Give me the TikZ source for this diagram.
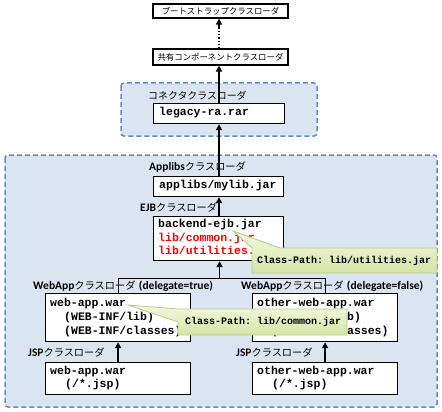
\documentclass[tikz,border=0pt]{standalone}
\usepackage{fontspec}
\setmainfont{Carlito}
\setmonofont{Liberation Mono}
\newfontfamily\jp{Noto Sans CJK JP}
\usetikzlibrary{arrows.meta,calc}
\definecolor{grpfill}{HTML}{DBE5F1}
\definecolor{grpline}{HTML}{5F8DCB}
\definecolor{calltop}{HTML}{F2F8E0}
\definecolor{callbot}{HTML}{D4E5A6}
\definecolor{callline}{HTML}{B7CD86}
\definecolor{redtxt}{HTML}{FF0000}
\newcommand\jpk{\jp\fontsize{10.2}{12}\selectfont}
\begin{document}
\begin{tikzpicture}[x=1pt,y=-1pt,
  grp/.style={draw=grpline, fill=grpfill, line width=1.5pt, dash pattern=on 5pt off 3pt, rounded corners=3pt},
  box/.style={draw=black, fill=white, line width=1.2pt, anchor=north west, inner sep=0pt},
  topbox/.style={draw=black, fill=white, line width=1.1pt, inner sep=0pt, font=\jp\fontsize{8.4}{9}\selectfont},
  mono/.style={anchor=west, inner sep=0pt, font=\ttfamily\bfseries\fontsize{11.5}{13.5}\selectfont},
  cmono/.style={anchor=west, inner sep=0pt, font=\ttfamily\bfseries\fontsize{10}{12}\selectfont},
  lbl/.style={anchor=west, inner sep=0pt, font=\fontsize{11.5}{12}\selectfont},
  arr/.style={line width=1.5pt, -{Triangle[length=6pt,width=6pt]}},
  link/.style={line width=1.2pt},
  callout/.style={draw=callline, line width=0.8pt, top color=calltop, bottom color=callbot}
]
\useasboundingbox (0,0) rectangle (442,412);

% groups
\path[grp] (121,83) rectangle (317,136);
\path[grp] (5,155) rectangle (437,407);

% top boxes
\node[topbox, minimum width=135pt, minimum height=14pt] (boot) at (220.5,11) {ブートストラップクラスローダ};
\node[topbox, minimum width=135pt, minimum height=16pt] (shared) at (220.5,57) {共有コンポーネントクラスローダ};

% boxes
\node[box, minimum width=131pt, minimum height=20pt] (legacy) at (153,103) {};
\node[box, minimum width=130pt, minimum height=20pt] (applibs) at (153,176) {};
\node[box, minimum width=130pt, minimum height=44pt] (ejb) at (153,216) {};
\node[box, minimum width=145pt, minimum height=48pt] (webL) at (45,293) {};
\node[box, minimum width=145pt, minimum height=48pt] (webR) at (252,293) {};
\node[box, minimum width=145pt, minimum height=32pt] (jspL) at (45,362) {};
\node[box, minimum width=145pt, minimum height=32pt] (jspR) at (252,362) {};

% box texts
\node[mono] (tlegacy) at (159,113) {legacy-ra.rar};
\node[mono] (tapplibs) at (159,186) {applibs/mylib.jar};
\node[mono] (tejb1) at (158,225) {backend-ejb.jar};
\node[mono, text=redtxt] (tejb2) at (158,239) {lib/common.jar};
\node[mono, text=redtxt] (tejb3) at (158,252) {lib/utilities.jar};
\node[mono] (twl1) at (50,304) {web-app.war};
\node[mono] (twl2) at (64,318) {(WEB-INF/lib)};
\node[mono] (twl3) at (64,332) {(WEB-INF/classes)};
\node[mono] (twr1) at (257,304) {other-web-app.war};
\node[mono] (twr2) at (271,318) {(WEB-INF/lib)};
\node[mono] (twr3) at (271,332) {(WEB-INF/classes)};
\node[mono] (tjl1) at (50,372) {web-app.war};
\node[mono] (tjl2) at (65,385) {(/*.jsp)};
\node[mono] (tjr1) at (257,372) {other-web-app.war};
\node[mono] (tjr2) at (272,385) {(/*.jsp)};

% labels
\node[lbl, font=\jp\fontsize{9.9}{12}\selectfont] (lconn) at (148,96) {コネクタクラスローダ};
\node[lbl] (lapp) at (149,167) {\textbf{Applibs}{\jpk クラスローダ}};
\node[lbl] (lejb) at (140,208) {\textbf{EJB}{\jpk クラスローダ}};
\node[lbl] (lwebL) at (33,286) {\textbf{WebApp}{\jpk クラスローダ}\hspace{3.5pt}\textbf{(delegate=true)}};
\node[lbl] (lwebR) at (241,286) {\textbf{WebApp}{\jpk クラスローダ}\hspace{3.5pt}\textbf{(delegate=false)}};
\node[lbl] (ljspL) at (28,353) {\textbf{JSP}{\jpk クラスローダ}};
\node[lbl] (ljspR) at (236,353) {\textbf{JSP}{\jpk クラスローダ}};

% connectors
\coordinate (dtop) at ($(boot.south -| 219,0)+(0,9)$);
\draw[line width=1.3pt, dotted] (shared.north -| 219,0) -- (dtop);
\draw[arr] (dtop) -- (boot.south -| 219,0);
\draw[arr] (legacy.north -| 219,0) -- (shared.south -| 219,0);
\draw[arr] (applibs.north -| 219,0) -- (legacy.south -| 219,0);
\draw[arr] (ejb.north -| 219,0) -- (applibs.south -| 219,0);
\coordinate (j) at ($(ejb.south)+(1,17)$);
\draw[link] (webL.north) |- (j) -| (webR.north);
\draw[arr] (j) -- (j |- ejb.south);
\draw[arr] (jspL.north) -- (webL.south);
\draw[arr] (jspR.north) -- (webR.south);

% callouts
\path[callout] (252,248) -- (233,231) -- (280,248) -- (437,248) -- (437,273) -- (252,273) -- cycle;
\node[cmono] (c1) at (257,261) {Class-Path: lib/utilities.jar};
\path[callout] (178,309) -- (128,305) -- (178,322) -- (178,335) -- (347,335) -- (347,309) -- cycle;
\node[cmono] (c2) at (185,322) {Class-Path: lib/common.jar};
\end{tikzpicture}
\end{document}
